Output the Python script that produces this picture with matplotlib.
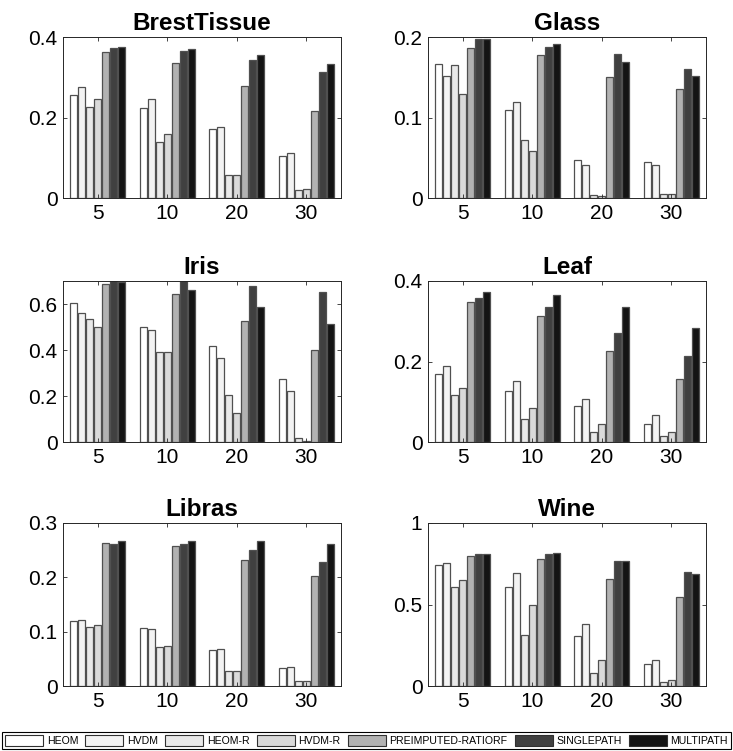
import numpy as np
import matplotlib
matplotlib.use("Agg")
import matplotlib.pyplot as plt
from matplotlib.patches import Patch

plt.rcParams["font.family"] = ["Liberation Sans", "DejaVu Sans"]

groups = ["5", "10", "20", "30"]
methods = ["HEOM", "HVDM", "HEOM-R", "HVDM-R", "PREIMPUTED-RATIORF",
           "SINGLEPATH", "MULTIPATH"]
colors = ["#ffffff", "#f3f3f3", "#e9e9e9", "#dadada", "#b2b2b2",
          "#404040", "#141414"]

# rows: missing rate group, columns: methods
brest_tissue = [
    [0.257, 0.275, 0.225, 0.245, 0.363, 0.373, 0.376],
    [0.223, 0.245, 0.139, 0.158, 0.336, 0.366, 0.371],
    [0.171, 0.177, 0.058, 0.058, 0.278, 0.342, 0.355],
    [0.105, 0.111, 0.021, 0.023, 0.215, 0.312, 0.332],
]
glass = [
    [0.167, 0.151, 0.165, 0.129, 0.186, 0.197, 0.198],
    [0.109, 0.119, 0.072, 0.059, 0.178, 0.187, 0.191],
    [0.047, 0.041, 0.004, 0.0025, 0.150, 0.179, 0.169],
    [0.045, 0.041, 0.005, 0.005, 0.135, 0.160, 0.152],
]
iris = [
    [0.604, 0.560, 0.536, 0.499, 0.687, 0.71, 0.697],
    [0.498, 0.488, 0.393, 0.393, 0.645, 0.71, 0.661],
    [0.418, 0.364, 0.204, 0.127, 0.524, 0.678, 0.585],
    [0.275, 0.223, 0.019, 0.003, 0.400, 0.652, 0.511],
]
leaf = [
    [0.168, 0.189, 0.116, 0.134, 0.349, 0.357, 0.372],
    [0.126, 0.151, 0.057, 0.085, 0.313, 0.336, 0.364],
    [0.090, 0.107, 0.024, 0.044, 0.225, 0.271, 0.335],
    [0.044, 0.067, 0.014, 0.025, 0.156, 0.214, 0.282],
]
libras = [
    [0.120, 0.122, 0.109, 0.112, 0.263, 0.262, 0.267],
    [0.107, 0.104, 0.072, 0.073, 0.258, 0.262, 0.267],
    [0.066, 0.068, 0.028, 0.028, 0.232, 0.250, 0.266],
    [0.034, 0.035, 0.010, 0.010, 0.203, 0.228, 0.261],
]
wine = [
    [0.742, 0.756, 0.607, 0.652, 0.797, 0.807, 0.807],
    [0.609, 0.691, 0.314, 0.494, 0.777, 0.807, 0.818],
    [0.305, 0.379, 0.082, 0.160, 0.658, 0.764, 0.764],
    [0.133, 0.160, 0.025, 0.035, 0.543, 0.701, 0.686],
]

panels = [
    ("BrestTissue", brest_tissue, 0.4, [0, 0.2, 0.4], ["0", "0.2", "0.4"]),
    ("Glass", glass, 0.2, [0, 0.1, 0.2], ["0", "0.1", "0.2"]),
    ("Iris", iris, 0.7, [0, 0.2, 0.4, 0.6], ["0", "0.2", "0.4", "0.6"]),
    ("Leaf", leaf, 0.4, [0, 0.2, 0.4], ["0", "0.2", "0.4"]),
    ("Libras", libras, 0.3, [0, 0.1, 0.2, 0.3], ["0", "0.1", "0.2", "0.3"]),
    ("Wine", wine, 1.0, [0, 0.5, 1], ["0", "0.5", "1"]),
]

W, H = 733, 751
fig = plt.figure(figsize=(W / 100, H / 100), dpi=100)

lefts = [63, 428]
tops = [37, 281, 523]
bottoms = [198, 442, 686]
ax_w = 278

x = np.arange(1, len(groups) + 1)
n = len(methods)
step = 0.8 / n
bar_w = step * 0.9

for i, (name, vals, ymax, yt, ytl) in enumerate(panels):
    r, c = divmod(i, 2)
    ax = fig.add_axes([lefts[c] / W, 1 - bottoms[r] / H, ax_w / W,
                       (bottoms[r] - tops[r]) / H])
    vals = np.array(vals)
    for j in range(n):
        ax.bar(x - 0.4 + step * (j + 0.5), vals[:, j], width=bar_w,
               color=colors[j], edgecolor="#505050", linewidth=0.9)
    ax.set_xlim(0.5, 4.5)
    ax.set_ylim(0, ymax)
    ax.set_xticks(x)
    ax.set_xticklabels(groups)
    ax.set_yticks(yt)
    ax.set_yticklabels(ytl)
    ax.tick_params(direction="in", top=True, right=True, length=3,
                   width=0.6, labelsize=15, color="#262626", pad=4)
    for s in ax.spines.values():
        s.set_linewidth(0.7)
        s.set_color("#262626")
    ax.set_title(name, fontsize=17.5, fontweight="bold", pad=5)

handles = [Patch(facecolor=colors[j], edgecolor="#303030", linewidth=0.8)
           for j in range(n)]
leg = fig.legend(handles, methods, ncol=n, loc="lower center",
                 bbox_to_anchor=(0.5, 1 - 749 / H),
                 fontsize=7.6, handlelength=3.6,
                 handleheight=1.3, handletextpad=0.35, columnspacing=0.68,
                 borderpad=0.25, borderaxespad=0, fancybox=False,
                 framealpha=1, edgecolor="black")
leg.get_frame().set_linewidth(0.8)

fig.savefig("out.png", dpi=100)
